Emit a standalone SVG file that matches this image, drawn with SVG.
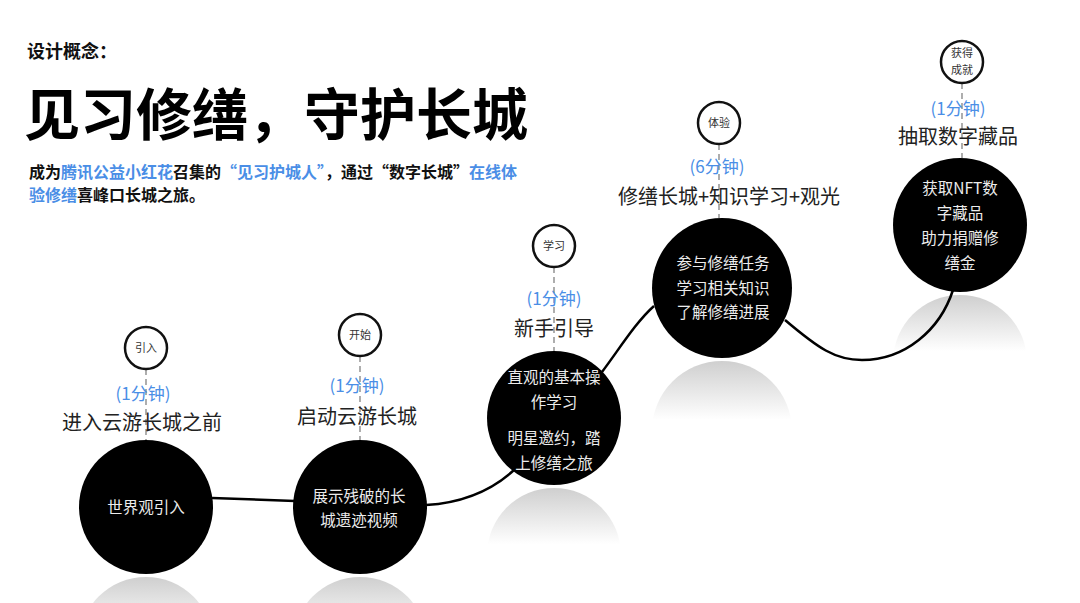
<svg xmlns="http://www.w3.org/2000/svg" width="1080" height="603" viewBox="0 0 1080 603">
<defs>
<linearGradient id="refl" x1="0" y1="0" x2="0" y2="1">
<stop offset="0" stop-color="#cfcfcf"/>
<stop offset="0.42" stop-color="#ffffff"/>
</linearGradient>
<style>
text{font-family:"Noto Sans CJK SC","Noto Sans",sans-serif;}
.big{fill:#000;}
.refl{fill:url(#refl);}
.small{fill:#fff;stroke:#111;stroke-width:2.5;}
.stext{font-size:11px;fill:#333;text-anchor:middle;}
.dash{stroke:#9a9a9a;stroke-width:1.6;stroke-dasharray:6 4;fill:none;}
.dur{font-size:17px;fill:#4a8ee6;text-anchor:middle;}
.lbl{font-size:20px;fill:#222;text-anchor:middle;}
.ctext{font-size:15.5px;fill:#ececec;text-anchor:middle;}
.conn{stroke:#000;stroke-width:2.5;fill:none;}
.blue{fill:#4a8ee6;}
</style>
</defs>
<rect width="1080" height="603" fill="#fff"/>

<g id="header">
<text x="27" y="58" font-size="18" font-weight="bold" fill="#111">设计概念：</text>
<text x="24" y="135" font-size="56" font-weight="bold" fill="#000">见习修缮，守护长城</text>
<text x="29" y="178" font-size="16" font-weight="bold" fill="#111">成为<tspan class="blue">腾讯公益小红花</tspan>召集的<tspan class="blue">“见习护城人”</tspan>，通过“数字长城”<tspan class="blue">在线体</tspan></text>
<text x="29" y="201" font-size="16" font-weight="bold" fill="#111"><tspan class="blue">验修缮</tspan>喜峰口长城之旅。</text>
</g>

<g id="reflections">
<circle class="refl" cx="146" cy="644" r="67"/>
<circle class="refl" cx="360" cy="644" r="67"/>
<circle class="refl" cx="554" cy="555" r="67"/>
<circle class="refl" cx="722" cy="431" r="70"/>
<circle class="refl" cx="960" cy="362" r="67"/>
</g>

<g id="connectors">
<path class="conn" d="M212,498 L295,501"/>
<path class="conn" d="M426,505 C458,503 490,492 514,470"/>
<path class="conn" d="M602,372 C620,348 636,322 654,306"/>
<path class="conn" d="M785,320 C818,348 835,360 862,360 C905,360 940,330 953,290"/>
<path class="dash" d="M146,369 V440"/>
<path class="dash" d="M360,356 V440"/>
<path class="dash" d="M554,267 V351"/>
<path class="dash" d="M719,144 V218"/>
<path class="dash" d="M962,83 V158"/>
</g>

<g id="node1">
<circle class="small" cx="146" cy="348" r="21"/>
<text class="stext" x="146" y="352">引入</text>
<text class="dur" x="143" y="400">(1分钟)</text>
<text class="lbl" x="142" y="430">进入云游长城之前</text>
<circle class="big" cx="146" cy="507" r="67"/>
<text class="ctext" x="146" y="513">世界观引入</text>
</g>

<g id="node2">
<circle class="small" cx="360" cy="335" r="21"/>
<text class="stext" x="360" y="339">开始</text>
<text class="dur" x="357" y="392">(1分钟)</text>
<text class="lbl" x="357" y="424">启动云游长城</text>
<circle class="big" cx="360" cy="507" r="67"/>
<text class="ctext" x="359" y="502">展示残破的长</text>
<text class="ctext" x="359" y="526">城遗迹视频</text>
</g>

<g id="node3">
<circle class="small" cx="554" cy="246" r="21"/>
<text class="stext" x="554" y="250">学习</text>
<text class="dur" x="554" y="305">(1分钟)</text>
<text class="lbl" x="554" y="336">新手引导</text>
<circle class="big" cx="554" cy="418" r="67"/>
<text class="ctext" x="554" y="383">直观的基本操</text>
<text class="ctext" x="554" y="408">作学习</text>
<text class="ctext" x="554" y="444">明星邀约，踏</text>
<text class="ctext" x="554" y="469">上修缮之旅</text>
</g>

<g id="node4">
<circle class="small" cx="719" cy="123" r="21"/>
<text class="stext" x="719" y="127">体验</text>
<text class="dur" x="717" y="173">(6分钟)</text>
<text class="lbl" x="729" y="204">修缮长城+知识学习+观光</text>
<circle class="big" cx="722" cy="288" r="70"/>
<text class="ctext" x="723" y="269">参与修缮任务</text>
<text class="ctext" x="723" y="294">学习相关知识</text>
<text class="ctext" x="723" y="318">了解修缮进展</text>
</g>

<g id="node5">
<circle class="small" cx="962" cy="62" r="21"/>
<text class="stext" x="962" y="57" font-size="10">获得</text>
<text class="stext" x="962" y="74" font-size="10">成就</text>
<text class="dur" x="958" y="115">(1分钟)</text>
<text class="lbl" x="958" y="144">抽取数字藏品</text>
<circle class="big" cx="960" cy="225" r="67"/>
<text class="ctext" x="960" y="194">获取NFT数</text>
<text class="ctext" x="960" y="219">字藏品</text>
<text class="ctext" x="960" y="244">助力捐赠修</text>
<text class="ctext" x="960" y="269">缮金</text>
</g>
</svg>
